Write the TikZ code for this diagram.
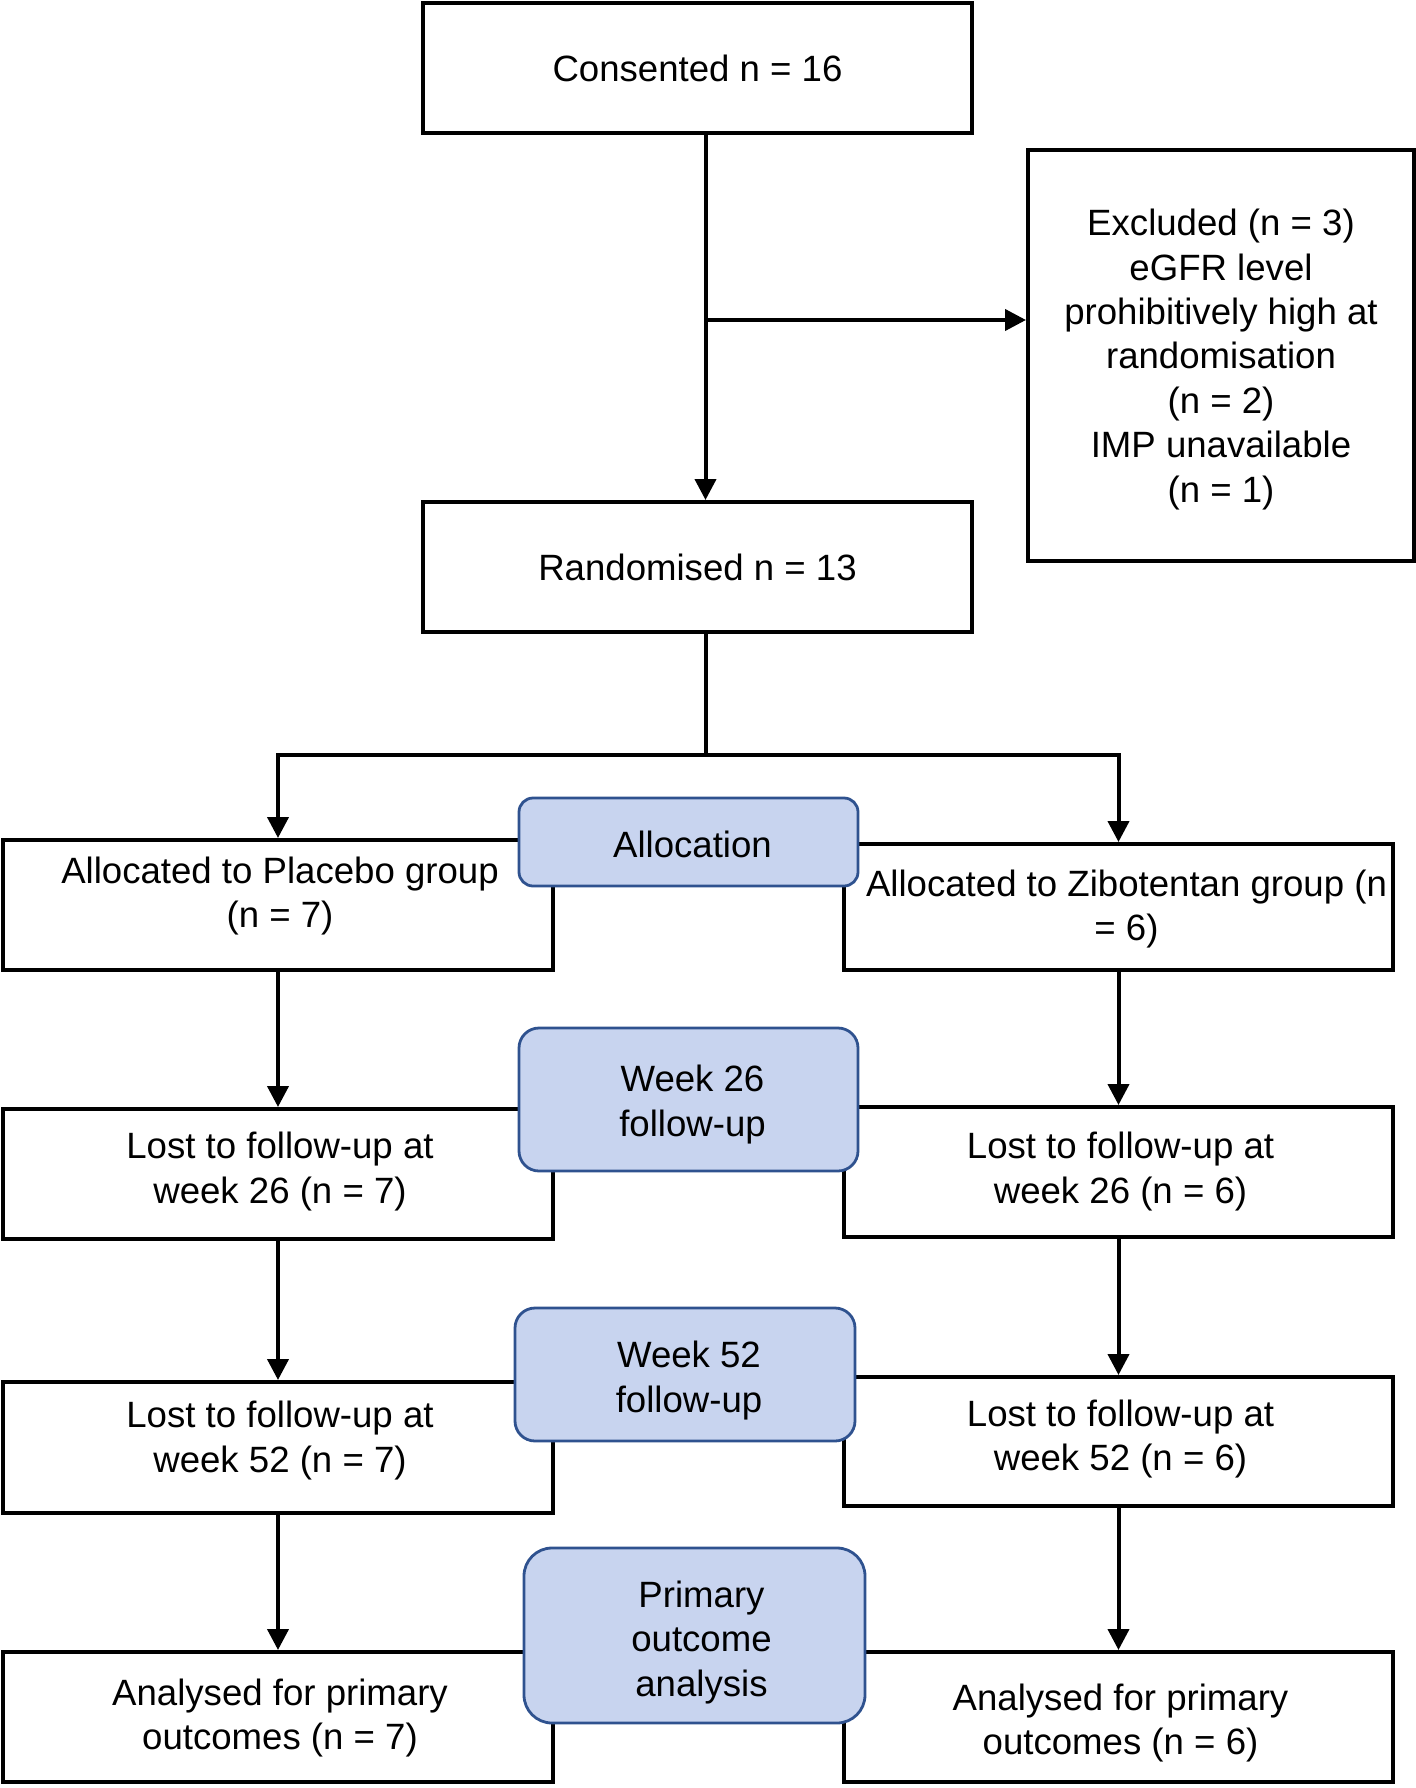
\documentclass[tikz,border=0pt]{standalone}
\usepackage{fontspec}
\setmainfont{Liberation Sans}
\usetikzlibrary{arrows.meta}
\definecolor{bfill}{RGB}{200,212,239}
\definecolor{bdraw}{RGB}{47,82,143}
\begin{document}
\begin{tikzpicture}[x=0.5pt,y=-0.5pt,
 txt/.style={font=\fontsize{18.3pt}{22.2pt}\selectfont, align=center, inner sep=0pt},
 wbox/.style={draw=black, line width=2pt, fill=white, inner sep=0pt},
 bbox/.style={draw=bdraw, line width=1.4pt, fill=bfill, inner sep=0pt, rounded corners=#1},
 conn/.style={line width=2pt},
 arr/.style={conn, -{Triangle[length=10.5pt,width=10.5pt]}}]
\useasboundingbox (0,0) rectangle (1416,1788);

% white boxes
\node[wbox, txt, minimum width=274.5pt, minimum height=65pt] (cons) at (697.5,68) {Consented n = 16};
\node[wbox, minimum width=193pt, minimum height=205.5pt,
  label={[txt,name=excl-t,yshift=-2pt]center:{Excluded (n = 3)\\eGFR level\\prohibitively high at\\randomisation\\(n = 2)\\IMP unavailable\\(n = 1)}}] (excl) at (1221,355.5) {};
\node[wbox, txt, minimum width=274.5pt, minimum height=65pt] (rand) at (697.5,567) {Randomised n = 13};

\node[wbox, minimum width=275pt, minimum height=65pt,
  label={[txt,name=plac-t,xshift=1pt,yshift=4.5pt]center:{Allocated to Placebo group\\(n = 7)}}] (plac) at (278,905) {};
\node[wbox, minimum width=274.5pt, minimum height=63pt,
  label={[txt,name=zib-t,xshift=4pt,yshift=-1pt]center:{Allocated to Zibotentan group (n\\= 6)}}] (zib) at (1118.5,907) {};

\node[wbox, minimum width=275pt, minimum height=65pt,
  label={[txt,name=l26l-t,xshift=1pt,yshift=1.3pt]center:{Lost to follow-up at\\week 26 (n = 7)}}] (l26l) at (278,1174) {};
\node[wbox, minimum width=274.5pt, minimum height=65pt,
  label={[txt,name=l26r-t,xshift=1pt,yshift=0.3pt]center:{Lost to follow-up at\\week 26 (n = 6)}}] (l26r) at (1118.5,1172) {};

\node[wbox, minimum width=275pt, minimum height=65.5pt,
  label={[txt,name=l52l-t,xshift=1pt,yshift=3.5pt]center:{Lost to follow-up at\\week 52 (n = 7)}}] (l52l) at (278,1447.5) {};
\node[wbox, minimum width=274.5pt, minimum height=64.5pt,
  label={[txt,name=l52r-t,xshift=1pt,yshift=1.2pt]center:{Lost to follow-up at\\week 52 (n = 6)}}] (l52r) at (1118.5,1441.5) {};

\node[wbox, minimum width=275pt, minimum height=65pt,
  label={[txt,name=anl-t,xshift=1pt,yshift=-0.5pt]center:{Analysed for primary\\outcomes (n = 7)}}] (anl) at (278,1717) {};
\node[wbox, minimum width=274.5pt, minimum height=65pt,
  label={[txt,name=anr-t,xshift=1pt,yshift=-3pt]center:{Analysed for primary\\outcomes (n = 6)}}] (anr) at (1118.5,1717) {};

% connectors
\draw[arr] ([xshift=4pt]cons.south) -- ([xshift=4pt]rand.north);
\path ([xshift=4pt]cons.south) ++(0,185) coordinate (br);
\draw[arr] (br) -- (br -| excl.west);
\path ([xshift=4pt]rand.south) ++(0,121) coordinate (sp);
\draw[conn] ([xshift=4pt]rand.south) -- (sp);
\draw[arr] (sp) -| (plac.north);
\draw[arr] (sp) -| (zib.north);
\draw[arr] (plac) -- (l26l);
\draw[arr] (zib) -- (l26r);
\draw[arr] (l26l) -- (l52l);
\draw[arr] (l26r) -- (l52r);
\draw[arr] (l52l) -- (anl);
\draw[arr] (l52r) -- (anr);

% blue phase boxes
\node[bbox=7pt, minimum width=169.5pt, minimum height=44pt,
  label={[txt,name=alloc-t,xshift=2pt,yshift=-1pt]center:{Allocation}}] (alloc) at (688.5,842) {};
\node[bbox=10pt, minimum width=169.5pt, minimum height=71.5pt,
  label={[txt,name=w26-t,xshift=2pt,yshift=-2.5pt]center:{Week 26\\follow-up}}] (w26) at (688.5,1099.5) {};
\node[bbox=10pt, minimum width=170pt, minimum height=66.5pt,
  label={[txt,name=w52-t,xshift=2pt,yshift=-3pt]center:{Week 52\\follow-up}}] (w52) at (685,1374.5) {};
\node[bbox=14pt, minimum width=170.5pt, minimum height=87.5pt,
  label={[txt,name=po-t,xshift=3.5pt,yshift=-3.5pt]center:{Primary\\outcome\\analysis}}] (po) at (694.5,1635.5) {};
\end{tikzpicture}
\end{document}
